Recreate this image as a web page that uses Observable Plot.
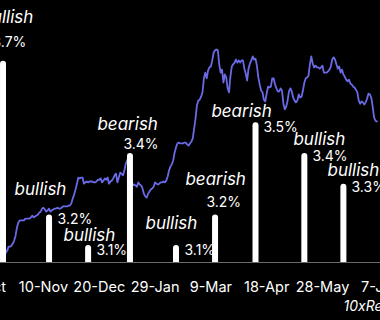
<!DOCTYPE html>
<html>
<head>
<meta charset="utf-8">
<script src="https://cdn.jsdelivr.net/npm/d3@7"></script>
<script src="https://cdn.jsdelivr.net/npm/@observablehq/plot@0.6"></script>
<style>
  html, body { margin: 0; padding: 0; background: #000; overflow: hidden; }
  #chart svg { display: block; }
</style>
</head>
<body>
<div id="chart"></div>
<script>
// CPI release dates, YoY CPI prints and the market reading of each print
const cpiDates = ["2023-10-12","2023-11-14","2023-12-12","2024-01-11","2024-02-13","2024-03-12","2024-04-10","2024-05-15","2024-06-12"];
const cpiValues = [3.7, 3.2, 3.1, 3.4, 3.1, 3.2, 3.5, 3.4, 3.3];
const sentiment = ["bullish","bullish","bullish","bearish","bullish","bearish","bearish","bullish","bullish"];

// x-axis tick dates (every 40 days)
const tickDates = ["2023-10-01","2023-11-10","2023-12-20","2024-01-29","2024-03-09","2024-04-18","2024-05-28","2024-07-07"];

// Bitcoin daily price (USD thousands), from 2023-10-10
const btcStart = "2023-10-10";
const btcPrice = [
26.4,26.3,26.3,26.3,26.3,26.8,27.7,27.7,27.9,28.4,
29.1,30.2,32.1,33.2,33.7,33.7,33.7,33.7,34.1,34.1,
34.1,34.1,34.4,34.8,34.4,34.6,34.8,35.0,35.5,35.7,
36.4,36.6,36.2,35.7,36.0,36.4,35.7,36.0,36.2,36.4,
36.4,36.6,36.4,36.4,36.6,36.9,36.9,36.9,36.9,37.1,
37.1,37.6,38.7,39.6,40.8,42.1,43.5,43.3,43.5,43.5,
42.1,42.4,42.6,42.4,42.6,42.6,42.6,42.4,42.4,42.6,
43.0,43.0,43.3,42.4,42.8,43.3,43.0,43.5,42.1,42.6,
42.8,43.3,44.0,44.4,42.4,43.5,44.6,44.4,44.0,45.1,
46.7,47.4,47.9,46.2,43.3,41.7,41.9,41.7,41.4,42.4,
41.9,41.7,41.0,39.8,39.2,38.9,39.8,40.3,40.8,41.0,
41.4,42.4,42.1,41.9,42.1,42.4,42.4,42.6,42.4,42.8,
43.7,45.1,46.0,46.5,47.4,49.2,50.4,51.3,51.5,51.3,
51.3,51.3,51.5,51.5,51.1,50.8,51.3,51.7,52.4,54.7,
57.0,60.0,61.1,61.3,62.0,63.0,66.2,67.5,66.2,68.0,
68.7,68.9,70.3,72.1,72.6,72.8,72.6,69.4,67.5,68.2,
65.2,67.1,66.4,63.9,63.0,66.6,68.9,69.4,69.8,70.5,
69.8,70.3,69.8,70.3,70.3,68.4,67.3,65.7,68.4,69.6,
70.3,71.2,70.5,70.7,69.1,66.4,64.8,63.4,63.0,61.3,
60.9,62.7,64.3,64.1,64.3,66.2,66.2,64.8,63.9,63.2,
63.2,63.9,63.4,60.4,59.1,59.7,61.1,63.2,63.9,63.2,
61.8,61.1,60.7,61.1,62.5,61.8,62.0,63.4,65.2,66.2,
66.4,66.8,69.4,71.2,69.6,68.7,69.1,68.7,68.7,68.4,
68.7,69.1,67.5,67.5,67.5,67.8,68.2,68.9,70.5,71.0,
70.5,69.4,68.4,68.9,67.5,68.2,67.1,66.6,65.9,65.5,
65.9,65.0,64.8,64.3,64.1,63.6,63.0,61.1,60.4,60.9,
60.7,60.2,60.7,61.6,62.7,62.5,61.8,59.7,57.2,56.5,
56.3
];

// ---- layout (label placement offsets in px, relative to each bar top) ----
const sentOffset = [[-21.5,-38],[-34.5,-19.4],[-24.6,-5],[-32.5,-23],[-30.5,-17],[-29.6,-29.4],[-44.1,-6.2],[-10.9,-8],[-15.9,-7.7]];
const valOffset  = [[-10.5,-14],[8.5,9.6],[8.4,9],[-6.5,-4.5],[8.5,9],[-8.6,-7.4],[7.9,8.8],[8.1,7.7],[8.1,8.3]];

const parse = d3.utcParse("%Y-%m-%d");
const cpi = cpiDates.map((d, i) => ({date: parse(d), value: cpiValues[i], sentiment: sentiment[i], label: cpiValues[i].toFixed(1) + "%"}));
const start = parse(btcStart);
const btc = btcPrice.map((p, i) => ({date: d3.utcDay.offset(start, i), price: p}));
const ticks = tickDates.map(parse);

// twin axis: BTC price (k USD) mapped onto the CPI % axis
const priceToCpi = p => 2.7023 + 0.014235 * p;

const font = "Inter, 'Open Sans', sans-serif";
const yMin = 3.045, yMax = 3.898;

const marks = [
  Plot.line(btc, {x: "date", y: d => priceToCpi(d.price), stroke: "#6a6ae6", strokeWidth: 1.8}),
  Plot.ruleX(cpi, {x: "date", y1: 2.9, y2: "value", stroke: "white", strokeWidth: 6, strokeLinecap: "round", dy: 3, clip: true}),
  Plot.ruleY([yMin], {stroke: "#6a6a6a", strokeWidth: 1}),
  Plot.text(ticks, {x: d => d, y: yMin, dy: 29, text: d => d3.utcFormat("%-d-%b")(d), fill: "white", fontSize: 14.5, lineAnchor: "bottom", textAnchor: "middle", fontFamily: font}),
  Plot.text(["10xResearch"], {frameAnchor: "bottom-left", dx: 343, dy: 48, fill: "white", fontSize: 14, fontStyle: "italic", textAnchor: "start", lineAnchor: "bottom", fontFamily: font})
];
cpi.forEach((d, i) => {
  marks.push(Plot.text([d], {x: "date", y: "value", text: "sentiment", dx: sentOffset[i][0], dy: sentOffset[i][1], fill: "white", fontSize: 17, fontStyle: "italic", textAnchor: "start", lineAnchor: "bottom", fontFamily: font}));
  marks.push(Plot.text([d], {x: "date", y: "value", text: "label", dx: valOffset[i][0], dy: valOffset[i][1], fill: "white", fontSize: 14, textAnchor: "start", lineAnchor: "bottom", fontFamily: font}));
});

const chart = Plot.plot({
  width: 380,
  height: 320,
  marginTop: 0,
  marginBottom: 58,
  marginLeft: 0,
  marginRight: 0,
  style: {background: "#000", color: "white", fontFamily: font},
  x: {type: "utc", domain: [new Date("2023-10-10T04:48Z"), new Date("2024-07-08T14:24Z")], axis: null},
  y: {domain: [yMin, yMax], axis: null},
  marks
});
document.getElementById("chart").append(chart);
</script>
</body>
</html>
